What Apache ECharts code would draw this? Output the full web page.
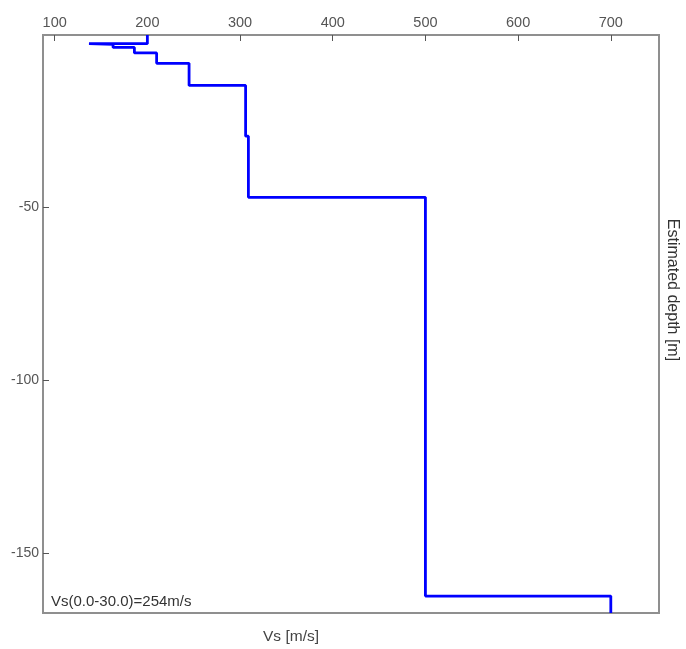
<!DOCTYPE html>
<html>
<head>
<meta charset="utf-8">
<script src="https://cdn.jsdelivr.net/npm/echarts@6/dist/echarts.min.js"></script>
<style>
html,body{margin:0;padding:0;background:#fff;}
#chart{width:686px;height:649px;}
</style>
</head>
<body>
<div id="chart"></div>
<script>
// Layer velocities (m/s) and layer bottom depths (m)
const velocities   = [200, 137, 163, 186, 210, 245, 306, 309, 500, 700];
const layerBottoms = [2.5, 2.7, 3.6, 5.2, 8.2, 14.6, 29.3, 47.0, 162.5, 167.4];
const xTicks = [100, 200, 300, 400, 500, 600, 700];
const yTicks = [-150, -100, -50];
const annotation = 'Vs(0.0-30.0)=254m/s';

// build step profile from the layer arrays
const points = [];
let layerTop = 0;
for (let i = 0; i < velocities.length; i++) {
  points.push([velocities[i], -layerTop]);
  points.push([velocities[i], -layerBottoms[i]]);
  layerTop = layerBottoms[i];
}

const chart = echarts.init(document.getElementById('chart'), null, {renderer: 'canvas'});
const font = 'Liberation Sans, Arial, sans-serif';
const frame = '#8f8f8f';
chart.setOption({
  animation: false,
  backgroundColor: '#fff',
  grid: {left: 43, top: 35, right: 27, bottom: 36, show: true, borderColor: frame, borderWidth: 2},
  xAxis: {
    type: 'value', position: 'top', min: 87.4, max: 752,
    axisLine: {show: true, lineStyle: {color: frame, width: 2}},
    axisTick: {show: true, inside: true, length: 6, customValues: xTicks, lineStyle: {color: '#555', width: 1}},
    axisLabel: {customValues: xTicks, color: '#555', fontFamily: font, fontSize: 14.5, margin: 5},
    splitLine: {show: false}
  },
  yAxis: {
    type: 'value', min: -167.4, max: 0,
    axisLine: {show: true, lineStyle: {color: frame, width: 2}},
    axisTick: {show: true, inside: true, length: 6, customValues: yTicks, lineStyle: {color: '#555', width: 1}},
    axisLabel: {customValues: yTicks, color: '#555', fontFamily: font, fontSize: 14, margin: 4},
    splitLine: {show: false}
  },
  series: [{
    type: 'line', data: points, showSymbol: false, symbol: 'none',
    lineStyle: {color: '#0000ff', width: 2.8}, clip: true
  }],
  graphic: [
    {type: 'text', left: 51, top: 594, style: {text: annotation, fill: '#333', font: '15px ' + font}},
    {type: 'text', x: 291, y: 637, style: {text: 'Vs [m/s]', fill: '#444', font: '15.5px ' + font, align: 'center', verticalAlign: 'middle'}},
    {type: 'text', x: 672, y: 290, rotation: -Math.PI / 2,
     style: {text: 'Estimated depth [m]', fill: '#333', font: '16px ' + font, align: 'center', verticalAlign: 'middle'}}
  ]
});
</script>
</body>
</html>
